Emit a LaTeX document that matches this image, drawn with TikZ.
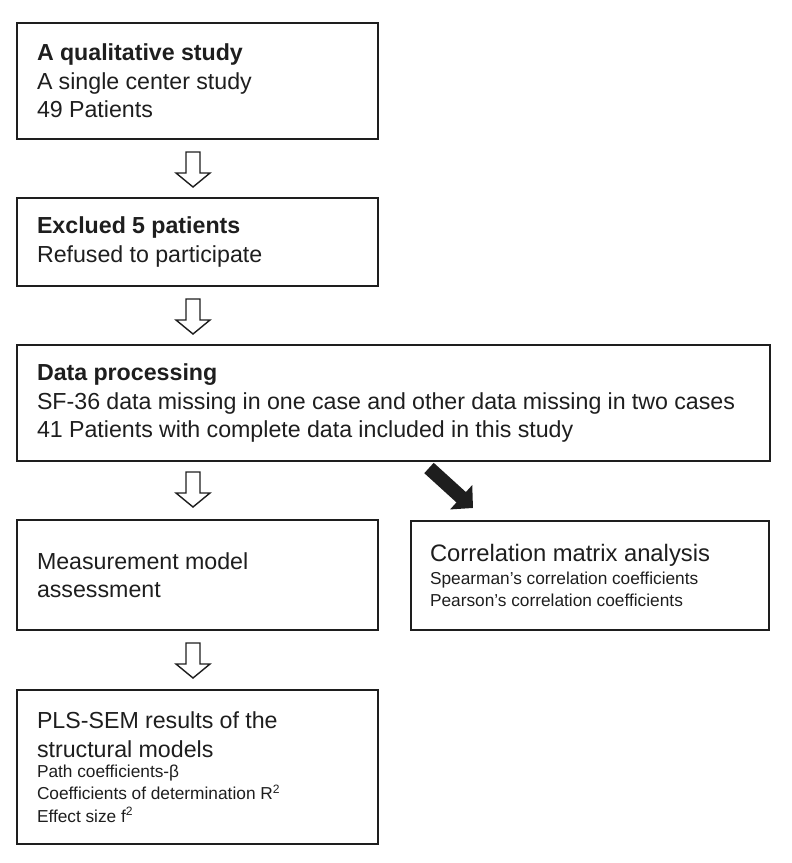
\documentclass[tikz,border=0pt]{standalone}
\usepackage{fontspec}
\setmainfont{Liberation Sans}
\usetikzlibrary{calc,arrows.meta}
\definecolor{ink}{HTML}{1E1E1E}
\newcommand{\tightsp}{\spaceskip=0.27em plus 0.1em minus 0.05em\relax}
\newcommand{\bigtxt}{\fontsize{23.2}{28.5}\selectfont\tightsp}
\newcommand{\smtxt}{\fontsize{17.3}{22.5}\selectfont\tightsp}
\begin{document}
\begin{tikzpicture}[x=1pt,y=-1pt,
  box/.style={draw=ink, line width=2pt, anchor=north west, inner xsep=20pt, inner ysep=0pt,
     align=left, text=ink, font=\bigtxt},
  hollow/.pic={\draw[ink, line width=1.4pt, line join=miter, fill=white]
     (-7,0) -- (7,0) -- (7,21) -- (17,21) -- (0,35) -- (-17,21) -- (-7,21) -- cycle;},
  bigarrow/.style={ink, line width=14pt, -{Triangle[length=16pt,width=32pt]}}
]
\useasboundingbox (0,0) rectangle (792,863);

\node[box, text width=321pt, minimum height=116pt] (b1) at (16,22)
  {\bigtxt\textbf{A qualitative study}\\A single center study\\49 Patients};
\node[box, text width=321pt, minimum height=88pt] (b2) at (16,197)
  {\bigtxt\textbf{Exclued 5 patients}\\Refused to participate};
\node[box, text width=713pt, minimum height=116pt] (b3) at (16,344)
  {\bigtxt\textbf{Data processing}\\SF-36 data missing in one case and other data missing in two cases\\41 Patients with complete data included in this study};
\node[box, text width=321pt, minimum height=110pt] (b4) at (16,519)
  {\bigtxt Measurement model\\assessment};
\node[box, text width=320pt, minimum height=109pt, inner xsep=19pt] (b5) at (410,520)
  {{\fontsize{23.8}{28.5}\selectfont\tightsp Correlation matrix analysis\par}{\smtxt Spearman’s correlation coefficients\\Pearson’s correlation coefficients\par}};
\node[box, text width=321pt, minimum height=154pt] (b6) at (16,689)
  {{\bigtxt PLS-SEM results of the\\structural models\par}{\fontsize{17.3}{20}\selectfont\tightsp Path coefficients-β\par}{\smtxt Coefficients of determination R\textsuperscript{2}\\Effect size f\textsuperscript{2}\par}};

\coordinate (a1) at ($(193,0 |- b1.south)+(0,12)$);
\coordinate (a2) at ($(193,0 |- b2.south)+(0,12)$);
\coordinate (a3) at ($(193,0 |- b3.south)+(0,10)$);
\coordinate (a4) at ($(193,0 |- b4.south)+(0,12)$);
\pic at (a1) {hollow};
\pic at (a2) {hollow};
\pic at (a3) {hollow};
\pic at (a4) {hollow};

\coordinate (s) at ($(429,0 |- b3.south)+(0,6)$);
\coordinate (t) at ($(473,0 |- b5.north)+(0,-12)$);
\draw[bigarrow] (s) -- (t);
\end{tikzpicture}
\end{document}
